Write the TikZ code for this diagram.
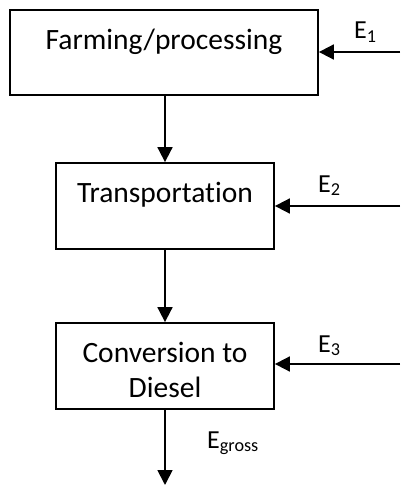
\documentclass[tikz,border=0pt]{standalone}
\usepackage{fontspec}
\setmainfont[Ligatures={NoCommon}]{Carlito}
\usetikzlibrary{arrows.meta}
\begin{document}
\begin{tikzpicture}[x=1pt,y=-1pt,
  box/.style={draw,line width=1.8pt,minimum width=#1,inner sep=0pt},
  lbl/.style={font=\fontsize{29.5}{36}\selectfont,inner sep=0pt,anchor=base},
  elbl/.style={font=\fontsize{26}{30}\selectfont,inner sep=0pt,anchor=base west},
  arr/.style={line width=1.8pt,-{Triangle[length=15pt,width=15pt]}}]
\useasboundingbox (0,0) rectangle (400,487);
\node[box=308pt,minimum height=85pt] (b1) at (164,52.5) {};
\node[box=218pt,minimum height=86pt] (b2) at (165,206) {};
\node[box=218pt,minimum height=86pt] (b3) at (165,366) {};
\node[lbl] (t1) at (164,49.5) {Farming/processing};
\node[lbl] (t2) at (165,202) {Transportation};
\node[lbl] (t3) at (165,362) {Conversion to};
\node[lbl] (t3b) at (165,397) {Diesel};
\coordinate (s1) at (400,52);
\coordinate (s2) at (400,206);
\coordinate (s3) at (400,364);
\coordinate (eg) at (165,485);
\draw[arr] (s1) -- (b1.east |- s1);
\draw[arr] (s2) -- (b2.east |- s2);
\draw[arr] (s3) -- (b3.east |- s3);
\draw[arr] (b1.south -| b2.north) -- (b2.north);
\draw[arr] (b2.south) -- (b3.north);
\draw[arr] (b3.south) -- (eg);
\node[elbl] (e1) at (354,39) {E\textsubscript{1}};
\node[elbl] (e2) at (318,192) {E\textsubscript{2}};
\node[elbl] (e3) at (318,352) {E\textsubscript{3}};
\node[elbl] (e4) at (207,448) {E\textsubscript{gross}};
\end{tikzpicture}
\end{document}
